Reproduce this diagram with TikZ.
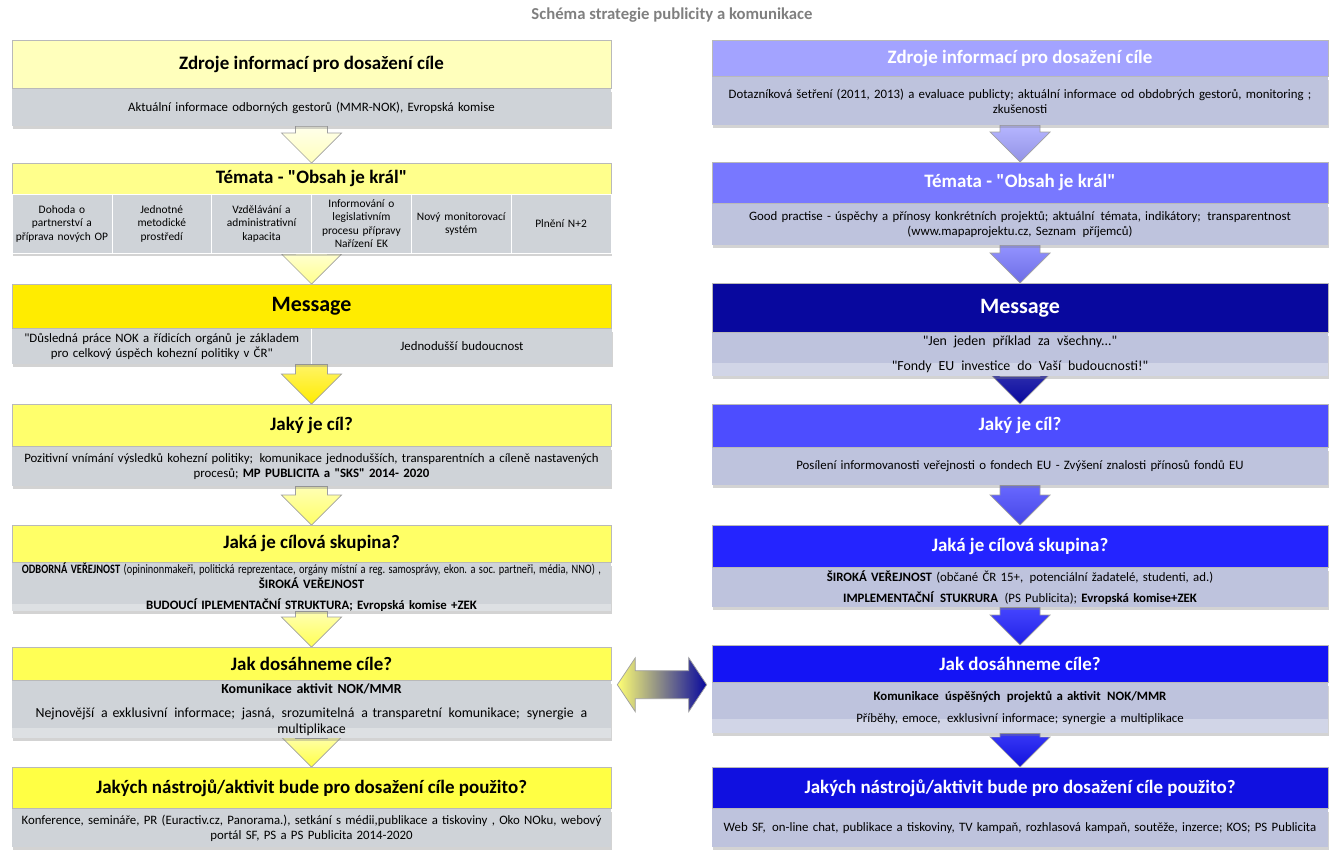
\documentclass[tikz,border=0pt]{standalone}
\usepackage{fontspec}
\usepackage{graphicx}
\setmainfont{Carlito}[Ligatures=TeXOff]
\usetikzlibrary{positioning,calc,shadows,backgrounds}
\definecolor{cTitle}{HTML}{7F7F7F}
\definecolor{cGl}{HTML}{CFD3D8}
\definecolor{cGr}{HTML}{BEC3DD}
\definecolor{arrline}{HTML}{A0A0A0}
\definecolor{cL1}{HTML}{FFFFBC}
\definecolor{cL2}{HTML}{FFFF8C}
\definecolor{cL3}{HTML}{FFEC00}
\definecolor{cL4}{HTML}{FFFF6C}
\definecolor{cL5}{HTML}{FFFF66}
\definecolor{cL6}{HTML}{FFFF55}
\definecolor{cL7}{HTML}{FFFF44}
\definecolor{cR1}{HTML}{A3A3FF}
\definecolor{cR2}{HTML}{7878FF}
\definecolor{cR3}{HTML}{08089E}
\definecolor{cR4}{HTML}{4D4DFF}
\definecolor{cR5}{HTML}{2424FF}
\definecolor{cR6}{HTML}{1414F5}
\definecolor{cR7}{HTML}{1010E0}
\newcommand{\downarr}[5]{%
  \path[draw=arrline,line width=0.4pt,top color=#4,bottom color=#5]
    ($(#1 -| #2)+(-#3,0)$) -- ($(#2)+(-#3,-30)$) -- ($(#2)+(-30,-30)$) -- (#2)
    -- ($(#2)+(30,-30)$) -- ($(#2)+(#3,-30)$) -- ($(#1 -| #2)+(#3,0)$) -- cycle;}

\begin{document}
\frenchspacing
\begin{tikzpicture}[x=0.02cm,y=-0.02cm,
  hd/.style={anchor=north,draw=gray!55,line width=0.4pt,inner sep=0pt,font=\fontsize{10.8}{12}\selectfont\bfseries},
  lhd/.style={hd,minimum width=11.98cm},
  rhd/.style={hd,minimum width=12.32cm,text=white},
  msg/.style={font=\fontsize{12.5}{14}\selectfont\bfseries},
  gb/.style={inner sep=0pt,align=center,font=\fontsize{7.3}{8.5}\selectfont,
    drop shadow={shadow xshift=0.6pt,shadow yshift=-1.4pt,opacity=0.35}},
  lgb/.style={gb,fill=cGl,minimum width=11.98cm,text width=11.98cm},
  rgb/.style={gb,fill=cGr,minimum width=12.32cm,text width=12.3cm},
  lowband/.style={path picture={\fill[white,opacity=0.3] ($(path picture bounding box.south west)+(0,-#1)$)
    rectangle (path picture bounding box.south east);}},
  sub/.style={gb,fill=cGl,draw=white,line width=0.3pt,anchor=north,minimum width=1.996cm,
    minimum height=1.18cm,text width=1.99cm,font=\fontsize{6.5}{7.6}\selectfont}]
\useasboundingbox (0,0) rectangle (1344,866);
\node[font=\fontsize{9.5}{11}\selectfont\bfseries,text=cTitle] (title) at (672,15) {Schéma strategie publicity a komunikace};

\node[lhd,fill=cL1,minimum height=0.96cm] (lh1) at (311.5,40) {Zdroje informací pro dosažení cíle};
\node[lgb,minimum height=0.74cm,below=0pt of lh1] (lg1) {Aktuální informace odborných gestorů (MMR-NOK), Evropská komise};
\node[lhd,fill=cL2,minimum height=0.62cm] (lh2) at (311.5,163) {Témata - "Obsah je král"};
\foreach \t [count=\i] in {{Dohoda o\\partnerství a\\příprava nových OP},{Jednotné\\metodické\\prostředí},
  {Vzdělávání a\\administrativní\\kapacita},{Informování o\\legislativním\\procesu přípravy\\Nařízení EK},
  {Nový monitorovací\\systém},{Plnění N+2}}
  \node[sub] (s\i) at ({12+(\i-0.5)*99.83},194) {\t};
\node[lhd,msg,fill=cL3,minimum height=0.88cm] (lh3) at (311.5,284) {Message};
\node[lgb,minimum width=5.99cm,text width=5.9cm,minimum height=0.7cm,below right=0pt and 0pt of lh3.south west] (lg3a)
  {"Důsledná práce NOK a řídicích orgánů je základem\\pro celkový úspěch kohezní politiky v ČR"};
\node[lgb,minimum width=5.99cm,text width=5.9cm,minimum height=0.7cm,right=0pt of lg3a] (lg3b) {Jednodušší budoucnost};
\draw[white,line width=0.5pt] (lg3a.north east) -- (lg3a.south east);
\node[lhd,fill=cL4,minimum height=0.84cm] (lh4) at (311.5,404) {Jaký je cíl?};
\node[lgb,minimum height=0.78cm,below=0pt of lh4] (lg4) {Pozitivní vnímání výsledků kohezní politiky;\enspace komunikace jednodušších, transparentních a cíleně nastavených\\procesů; \textbf{MP PUBLICITA a "SKS" 2014- 2020}};
\node[lhd,fill=cL5,minimum height=0.74cm] (lh5) at (311.5,525) {Jaká je cílová skupina?};
\node[lgb,lowband=7,minimum height=0.96cm,below=0pt of lh5] (lg5) {\scalebox{0.81}[1]{\textbf{ODBORNÁ VEŘEJNOST} (opininonmakeři, politická reprezentace, orgány místní a reg. samosprávy, ekon. a soc. partneři, média, NNO) ,}\\
  \textbf{ŠIROKÁ VEŘEJNOST}\\[3pt]\textbf{BUDOUCÍ IPLEMENTAČNÍ STRUKTURA; Evropská komise +ZEK}};
\node[lhd,fill=cL6,minimum height=0.66cm] (lh6) at (311.5,647) {Jak dosáhneme cíle?};
\node[lgb,lowband=10,minimum height=1.14cm,below=0pt of lh6,font=\fontsize{7.9}{9}\selectfont] (lg6) {\textbf{Komunikace aktivit NOK/MMR}\\[5pt]
  Nejnovější\, a exklusivní\, informace;\, jasná,\, srozumitelná\, a transparetní\, komunikace;\, synergie\, a\\multiplikace};
\node[lhd,fill=cL7,minimum height=0.82cm] (lh7) at (311.5,767) {Jakých nástrojů/aktivit bude pro dosažení cíle použito?};
\node[lgb,minimum height=0.76cm,below=0pt of lh7] (lg7) {Konference, semináře, PR (Euractiv.cz, Panorama.), setkání s médii,publikace a tiskoviny , Oko NOku, webový\\portál SF, PS a PS Publicita 2014-2020};

\node[rhd,fill=cR1,minimum height=0.72cm] (rh1) at (1020,40) {Zdroje informací pro dosažení cíle};
\node[rgb,minimum height=0.96cm,below=0pt of rh1] (rg1) {Dotazníková šetření (2011, 2013) a evaluace publicty; aktuální informace od obdobrých gestorů, monitoring ;\\zkušenosti};
\node[rhd,fill=cR2,minimum height=0.82cm] (rh2) at (1020,162) {Témata - "Obsah je král"};
\node[rgb,minimum height=0.82cm,below=0pt of rh2] (rg2) {Good practise - úspěchy a přínosy konkrétních projektů; aktuální\, témata, indikátory;\, transparentnost\\(www.mapaprojektu.cz, Seznam\, příjemců)};
\node[rhd,msg,fill=cR3,minimum height=0.98cm] (rh3) at (1020,283) {Message};
\node[rgb,lowband=13,minimum height=0.86cm,below=0pt of rh3,font=\fontsize{7.9}{9}\selectfont] (rg3) {"Jen\, jeden\, příklad\, za\, všechny..."\\[5pt]"Fondy\, EU\, investice\, do\, Vaší\, budoucnosti!"};
\node[rhd,fill=cR4,minimum height=0.86cm] (rh4) at (1020,404) {Jaký je cíl?};
\node[rgb,minimum height=0.74cm,below=0pt of rh4] (rg4) {Posílení informovanosti veřejnosti o fondech EU - Zvýšení znalosti přínosů fondů EU};
\node[rhd,fill=cR5,minimum height=0.84cm] (rh5) at (1020,525) {Jaká je cílová skupina?};
\node[rgb,minimum height=0.78cm,below=0pt of rh5] (rg5) {\textbf{ŠIROKÁ VEŘEJNOST} (občané ČR 15+,\, potenciální žadatelé, studenti, ad.)\\[3pt]
  \textbf{IMPLEMENTAČNÍ\, STUKRURA}\, (PS Publicita); \textbf{Evropská komise+ZEK}};
\node[rhd,fill=cR6,minimum height=0.74cm] (rh6) at (1020,645) {Jak dosáhneme cíle?};
\node[rgb,lowband=14,minimum height=1.0cm,below=0pt of rh6] (rg6) {\textbf{Komunikace\, úspěšných\, projektů a aktivit\, NOK/MMR}\\[4pt]Příběhy, emoce,\, exklusivní informace; synergie a multiplikace};
\node[rhd,fill=cR7,minimum height=0.82cm] (rh7) at (1020,767) {Jakých nástrojů/aktivit bude pro dosažení cíle použito?};
\node[rgb,minimum height=0.76cm,below=0pt of rh7] (rg7) {Web SF,\, on-line chat, publikace a tiskoviny, TV kampaň, rozhlasová kampaň, soutěže, inzerce; KOS; PS Publicita};

\begin{scope}[on background layer]
\downarr{lg1.south}{lh2.north}{16}{white!70!cL1}{cL1}
\downarr{s3.south east}{lh3.north}{16}{white!60!cL2}{cL2}
\downarr{lg3a.south east}{lh4.north}{16}{white!40!cL3}{cL3}
\downarr{lg4.south}{lh5.north}{16}{white!50!cL4}{cL5}
\downarr{lg5.south}{lh6.north}{16}{white!50!cL5}{cL6}
\downarr{lg6.south}{lh7.north}{16}{white!50!cL6}{cL7}
\downarr{rg1.south}{rh2.north}{20}{white!20!cR1}{cR1!90!black}
\downarr{rg2.south}{rh3.north}{20}{white!20!cR2}{cR2!90!black}
\downarr{rg3.south}{rh4.north}{20}{white!15!cR3}{cR3}
\downarr{rg4.south}{rh5.north}{20}{white!15!cR4}{cR4!90!black}
\downarr{rg5.south}{rh6.north}{20}{white!15!cR5}{cR5!90!black}
\downarr{rg6.south}{rh7.north}{20}{white!15!cR6}{cR6!90!black}
\end{scope}

\coordinate (dl) at ($(lg6.north east)+(6,4)$);
\coordinate (dr) at ($(rg6.north west |- dl)+(-5,0)$);
\path[draw=arrline,line width=0.4pt,left color=yellow!55!white,right color=cR3]
  (dl) -- ($(dl)+(18,-27)$) -- ($(dl)+(18,-14)$) -- ($(dr)+(-18,-14)$) -- ($(dr)+(-18,-27)$) -- (dr)
  -- ($(dr)+(-18,27)$) -- ($(dr)+(-18,14)$) -- ($(dl)+(18,14)$) -- ($(dl)+(18,27)$) -- cycle;
\end{tikzpicture}
\end{document}
